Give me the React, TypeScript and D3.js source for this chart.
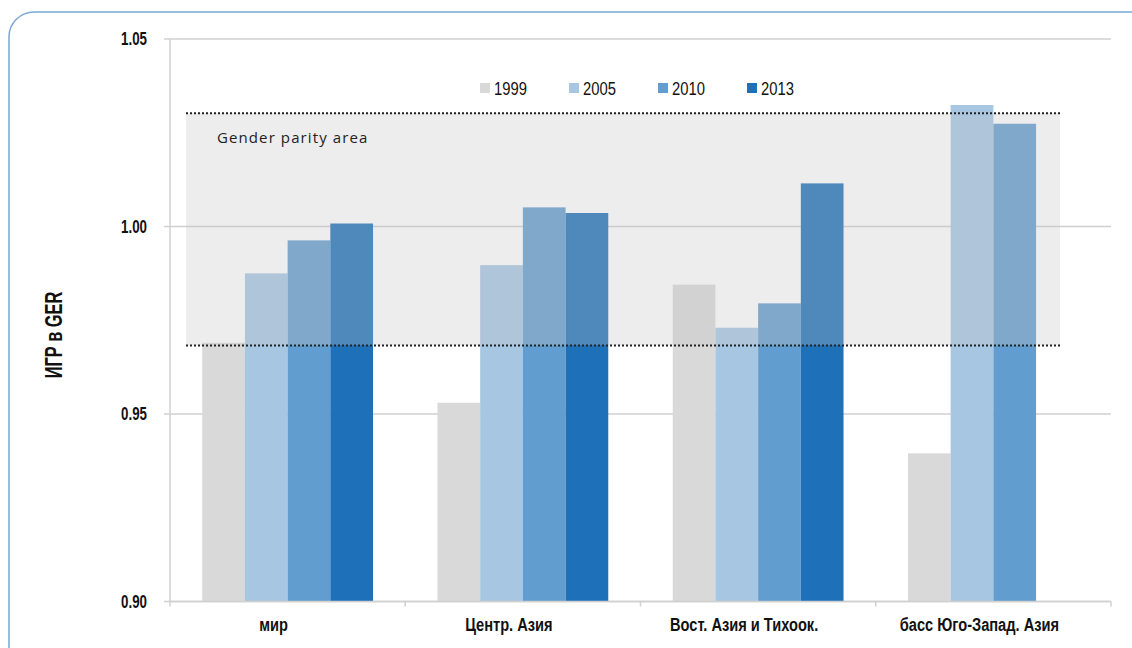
import React from "react";
import * as d3 from "d3";

// Gender parity index (GER) by region
const regions = ["мир", "Центр. Азия", "Вост. Азия и Тихоок.", "басс Юго-Запад. Азия"];
const years = ["1999", "2005", "2010", "2013"];
const values1999 = [0.969, 0.953, 0.9845, 0.9395];
const values2005 = [0.9875, 0.9897, 0.973, 1.0324];
const values2010 = [0.9963, 1.0051, 0.9795, 1.0274];
const values2013 = [1.0008, 1.0036, 1.0115, null];
const yTicks = [0.9, 0.95, 1.0, 1.05];
const parityLow = 0.9683;
const parityHigh = 1.0302;
const parityLabel = "Gender parity area";
const yTitle = "ИГР в GER";

const seriesValues = [values1999, values2005, values2010, values2013];
const colors = ["#d9d9d9", "#a6c6e2", "#629dcf", "#1e70b9"];

const W = 1132;
const H = 648;
const plot = { left: 170, right: 1111, top: 39, bottom: 601.5 };
const sans = "'Liberation Sans', Arial, sans-serif";

// Horizontally squeezed text, giving a condensed face from a regular one
function Narrow({
  x,
  y,
  sx = 0.86,
  anchor = "start",
  size,
  bold = false,
  rotate = 0,
  dy,
  children,
}: {
  x: number;
  y: number;
  sx?: number;
  anchor?: string;
  size: number;
  bold?: boolean;
  rotate?: number;
  dy?: string;
  children: React.ReactNode;
}) {
  return (
    <g transform={`translate(${x},${y}) rotate(${rotate}) scale(${sx},1)`}>
      <text
        textAnchor={anchor}
        dy={dy}
        fontFamily={sans}
        fontWeight={bold ? "bold" : "normal"}
        fontSize={size}
        fill="#111"
      >
        {children}
      </text>
    </g>
  );
}

export default function App() {
  const x = d3
    .scaleBand<string>()
    .domain(regions)
    .range([plot.left, plot.right])
    .paddingInner(0.274)
    .paddingOuter(0.137);
  const xs = d3.scaleBand<string>().domain(years).range([0, x.bandwidth()]);
  const y = d3.scaleLinear().domain([0.9, 1.05]).range([plot.bottom, plot.top]);

  const areaX0 = plot.left + 16;
  const areaX1 = plot.right - 51;
  const gridColor = "#d0d0d0";

  return (
    <svg
      width={W}
      height={H}
      style={{ position: "absolute", left: 0, top: 0, background: "#fff" }}
    >
      {/* card outline */}
      <rect x={9} y={12} width={1220} height={720} rx={25} ry={25} fill="none" stroke="#7ba7d9" strokeWidth={1.5} />

      {/* grid + y ticks */}
      {yTicks.map((t) => (
        <g key={t}>
          <line x1={plot.left - 6} x2={plot.right} y1={y(t)} y2={y(t)} stroke={gridColor} strokeWidth={1.5} />
          <Narrow x={147} y={y(t)} dy="0.35em" anchor="end" size={18} bold sx={0.74}>
            {d3.format(".2f")(t)}
          </Narrow>
        </g>
      ))}
      <line x1={plot.left} x2={plot.left} y1={plot.top} y2={plot.bottom} stroke={gridColor} strokeWidth={1.5} />

      {/* x ticks at band boundaries */}
      {regions.map((r, i) => (
        <line
          key={"t" + i}
          x1={plot.left + i * x.step()}
          x2={plot.left + i * x.step()}
          y1={plot.bottom}
          y2={plot.bottom + 5}
          stroke={gridColor}
          strokeWidth={1.5}
        />
      ))}
      <line x1={plot.right} x2={plot.right} y1={plot.bottom} y2={plot.bottom + 5} stroke={gridColor} strokeWidth={1.5} />

      {/* bars */}
      {regions.map((r, ri) =>
        years.map((yr, si) => {
          const v = seriesValues[si][ri];
          if (v == null) return null;
          const bx = (x(r) as number) + (xs(yr) as number);
          return (
            <rect
              key={r + yr}
              x={bx}
              y={y(v)}
              width={xs.bandwidth()}
              height={plot.bottom - y(v)}
              fill={colors[si]}
            />
          );
        })
      )}

      {/* parity band overlay */}
      <rect
        x={areaX0}
        y={y(parityHigh)}
        width={areaX1 - areaX0}
        height={y(parityLow) - y(parityHigh)}
        fill="rgb(195,195,195)"
        fillOpacity={0.3}
      />
      {[parityHigh, parityLow].map((p) => (
        <line
          key={p}
          x1={areaX0}
          x2={areaX1}
          y1={y(p)}
          y2={y(p)}
          stroke="#222"
          strokeWidth={2}
          strokeDasharray="2,2"
        />
      ))}
      <text
        x={217}
        y={y(parityHigh) + 30}
        fontFamily="'Open Sans', 'Noto Sans', sans-serif"
        fontSize={15}
        letterSpacing={1.1}
        fill="#222"
      >
        {parityLabel}
      </text>

      {/* x axis line on top */}
      <line x1={plot.left} x2={plot.right} y1={plot.bottom} y2={plot.bottom} stroke={gridColor} strokeWidth={1.5} />

      {/* category labels */}
      {regions.map((r) => (
        <Narrow
          key={r}
          x={(x(r) as number) + x.bandwidth() / 2 - 14}
          y={631}
          anchor="middle"
          size={19}
          bold
          sx={0.77}
        >
          {r}
        </Narrow>
      ))}

      {/* y title */}
      <Narrow x={62} y={335} rotate={-90} anchor="middle" size={23} bold sx={0.71}>
        {yTitle}
      </Narrow>

      {/* legend */}
      {years.map((yr, i) => (
        <g key={yr} transform={`translate(${480 + i * 89}, 83)`}>
          <rect width={10} height={10} fill={colors[i]} />
          <Narrow x={14} y={12} size={18.5} sx={0.8}>
            {yr}
          </Narrow>
        </g>
      ))}
    </svg>
  );
}
